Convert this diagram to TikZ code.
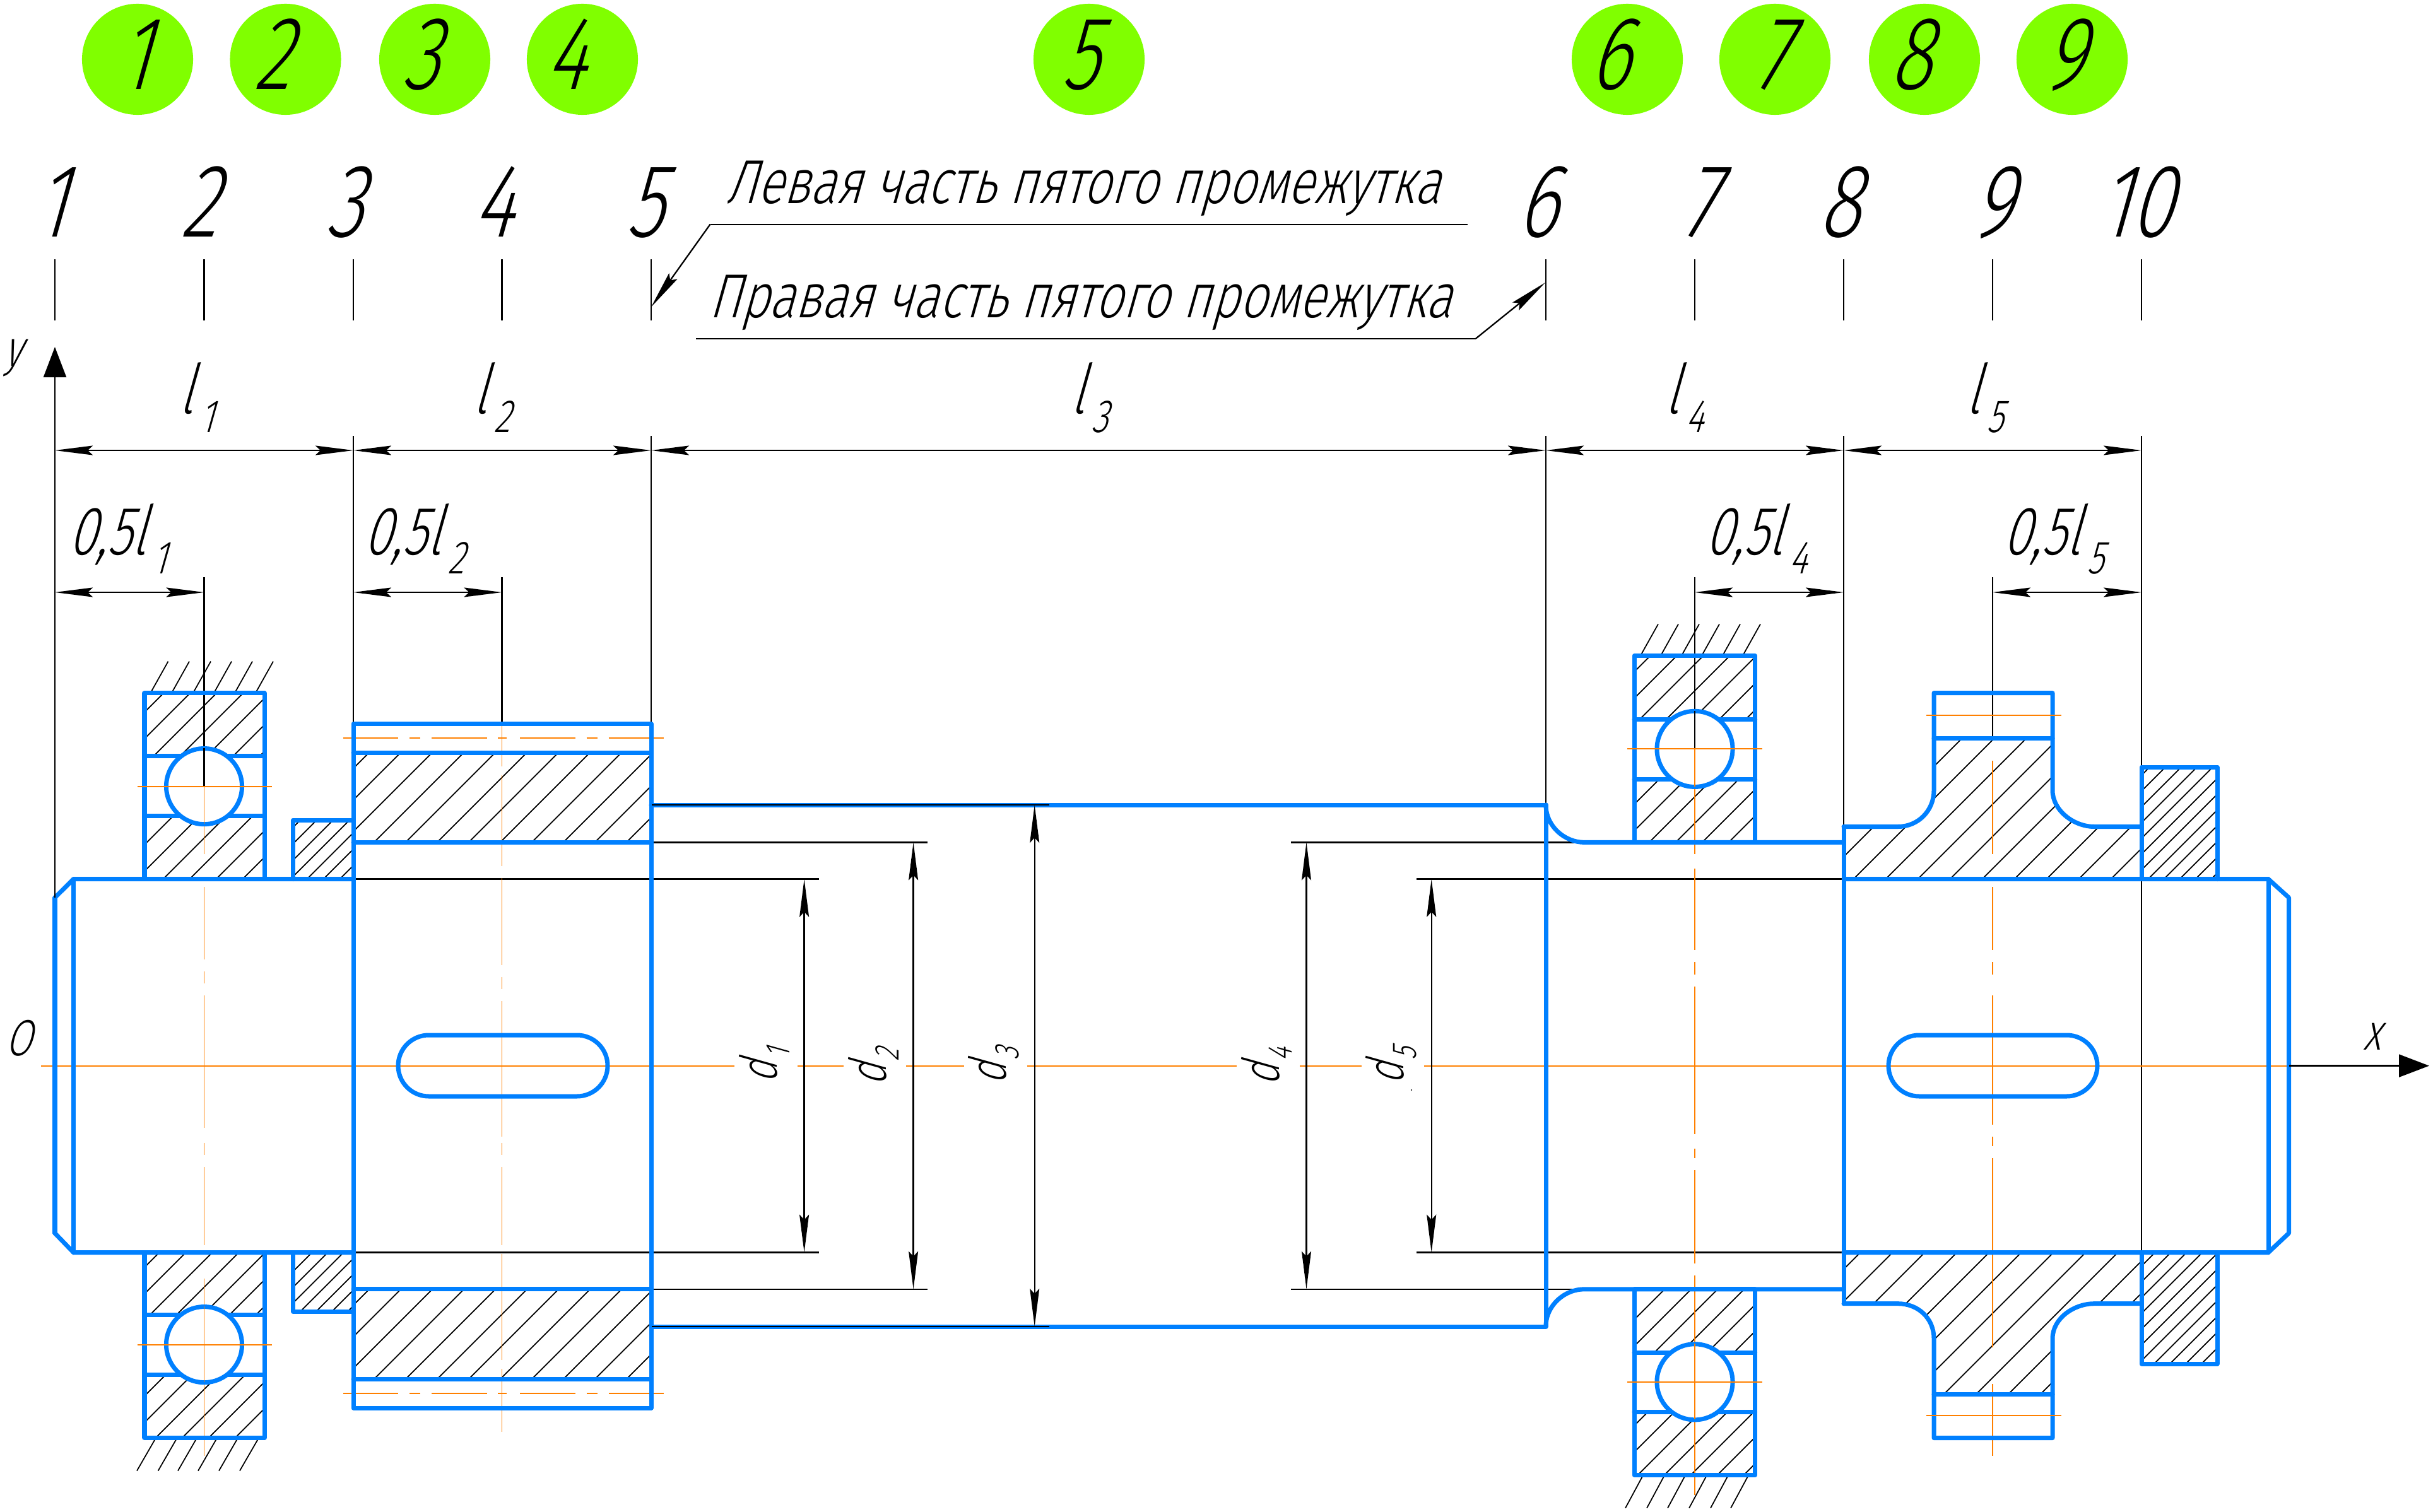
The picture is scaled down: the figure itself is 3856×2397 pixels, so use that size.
\documentclass[tikz,border=0pt]{standalone}
\usepackage{fontspec}
\usetikzlibrary{arrows.meta}
\newfontfamily\gost[UprightFont=* Light,FakeSlant=0.28,FakeStretch=0.74]{Fira Sans}
\newfontfamily\gostw[UprightFont=* Light,FakeSlant=0.28,FakeStretch=0.78]{Fira Sans}
\definecolor{bl}{HTML}{0080FF}
\definecolor{og}{HTML}{FF8000}
\definecolor{gr}{HTML}{80FF00}
\tikzset{
 outl/.style={draw=bl,line width=0.07cm,line join=round,line cap=round},
 thin line/.style={draw=black,line width=0.65pt},
 hatchln/.style={draw=black,line width=0.5pt},
 cl/.style={draw=og,line width=0.55pt},
 dimn/.style={draw=black,line width=0.65pt,{Stealth[length=0.6cm,width=0.15cm,inset=0.08cm]}-{Stealth[length=0.6cm,width=0.15cm,inset=0.08cm]}},
 lead/.style={draw=black,line width=0.65pt,-{Stealth[length=0.6cm,width=0.16cm,inset=0.08cm]}},
 axisln/.style={draw=black,line width=0.65pt,-{Stealth[length=0.48cm,width=0.36cm,inset=0pt]}},
 num/.style={inner sep=0pt,anchor=base,font=\gost\fontsize{47}{47}\selectfont},
 circ/.style={circle,fill=gr,draw=none,minimum size=1.76cm,inner sep=0pt},
 lbl/.style={inner sep=0pt,anchor=base west,font=\gost\fontsize{31}{31}\selectfont},
 capt/.style={inner sep=0pt,anchor=base west,font=\gostw\fontsize{28}{28}\selectfont},
 dlbl/.style={inner sep=0pt,anchor=base west,rotate=90,font=\gost\fontsize{23}{23}\selectfont},
 axl/.style={inner sep=0pt,anchor=base west,font=\gost\fontsize{23}{23}\selectfont},
}
\newcommand\hatchfill[4]{%
 \begin{scope}\clip #1;
 \pgfmathtruncatemacro{\cnext}{#2+#3}%
 \foreach \c in {#2,\cnext,...,#4}{\draw[hatchln] ({\c-900},900)--({\c-2500},2500);}
 \end{scope}}
\newcommand\lsub[2]{#1\kern0.1cm\raisebox{-0.3cm}{\fontsize{21}{21}\selectfont #2}}
\newcommand\dsub[2]{#1\kern0.04cm\raisebox{-0.2cm}{\fontsize{15.5}{15.5}\selectfont #2}}
\begin{document}
\begin{tikzpicture}[x=0.01cm,y=-0.01cm]
\useasboundingbox (0,0) rectangle (3856,2397);
\fill[white] (0,0) rectangle (3856,2397);
% hatches left
\hatchfill{(229,1099) rectangle (419,1199)}{1316}{42}{1618}
\hatchfill{(229,1293) rectangle (419,1394)}{1526}{42}{1820}
\hatchfill{(229,1986) rectangle (419,2085)}{2196}{42}{2504}
\hatchfill{(229,2179) rectangle (419,2280)}{2400}{42}{2710}
\hatchfill{(464,1300) rectangle (560,1394)}{1776}{26}{1958}
\hatchfill{(464,1986) rectangle (560,2079)}{2455}{25}{2655}
\hatchfill{(560,1193) rectangle (1032,1335)}{1778}{50}{2378}
\hatchfill{(560,2044) rectangle (1032,2186)}{2629}{50}{3229}
% hatches right
\hatchfill{(2590,1039) rectangle (2782,1141)}{3613}{42}{3949}
\hatchfill{(2590,1235) rectangle (2782,1335)}{3823}{42}{4117}
\hatchfill{(2590,2044) rectangle (2782,2144)}{4640}{42}{4934}
\hatchfill{(2590,2238) rectangle (2782,2339)}{4808}{42}{5144}
\hatchfill{(3394,1216) rectangle (3514,1394)}{4598}{25}{4923}
\hatchfill{(3394,1986) rectangle (3514,2162)}{5376}{25}{5701}
\hatchfill{(2922,1393.6)--(2922,1310.5)--(3008,1310.5) .. controls (3040,1310.5) and (3065,1285) .. (3065,1253)--(3065,1170)--(3253,1170)--(3253,1253) .. controls (3253,1285) and (3287,1310.5) .. (3319,1310.5)--(3394,1310.5)--(3394,1393.6)--cycle}{4025}{51}{4790}
\hatchfill{(2922,1985.6)--(2922,2066.7)--(3008,2066.7) .. controls (3040,2066.7) and (3065,2090) .. (3065,2122)--(3065,2210)--(3253,2210)--(3253,2122) .. controls (3253,2090) and (3287,2066.7) .. (3319,2066.7)--(3394,2066.7)--(3394,1985.6)--cycle}{4883}{51}{5648}
% ground hatch
\foreach \x in {238.5,272,306,339,372,405}{\draw[hatchln] (\x,1098.6)--++(28,-50);}
\foreach \x in {247,280.6,312,344,377,410}{\draw[hatchln] (\x,2279.6)--++(-30,52);}
\foreach \x in {2600,2632,2665,2697,2730,2762}{\draw[hatchln] (\x,1039.4)--++(28,-50);}
\foreach \x in {2604,2638,2671,2705,2739,2771}{\draw[hatchln] (\x,2338.8)--++(-28,52);}
% extension ticks
\foreach \x in {87,323.5,560,795.5,1032,2450,2686,2922,3158,3394}{\draw[thin line] (\x,411)--(\x,508);}
% extension lines
\foreach \x/\b in {560/1147,1032/1147,2450/1276,2922/1311,3394/1985.6}{\draw[thin line] (\x,691)--(\x,\b);}
\foreach \x/\b in {323.5/1246.6,795.5/1147,2686/1187,3158/1170}{\draw[thin line] (\x,915)--(\x,\b);}
\draw[thin line] (560,1393.6)--(1298,1393.6);
\draw[thin line] (560,1985.6)--(1298,1985.6);
\draw[thin line] (1032,1335.4)--(1470,1335.4);
\draw[thin line] (1032,2043.8)--(1470,2043.8);
\draw[thin line] (2046,1335.4)--(2511,1335.4);
\draw[thin line] (2046,2043.8)--(2511,2043.8);
\draw[thin line] (2245,1393.6)--(2982,1393.6);
\draw[thin line] (2245,1985.6)--(2982,1985.6);
% centre lines
\foreach \a/\b in {65/1164,1264/1337,1436/1528,1627.5/1960,2060/2158,2257/3627}{\draw[cl] (\a,1689.6)--(\b,1689.6);}
\foreach \a/\b in {1246.6/1353.5,1406/1520.6,1539.7/1558.8,1578/1788,1811.8/1831,1850/1974,2026.6/2308}{\draw[cl] (323.5,\a)--(323.5,\b);}
\foreach \a/\b in {1147/1215,1229/1372.6,1391.7/1530,1549/1568,1587/1802,1812/1831,1850/1974,1988/2155.5,2170/2270}{\draw[cl] (795.5,\a)--(795.5,\b);}
\foreach \a/\b in {1187/1353.5,1377/1506,1525/1544.5,1563.5/1797.5,1821/1835.6,1854.7/2002.7,2021.8/2370}{\draw[cl] (2686,\a)--(2686,\b);}
\foreach \a/\b in {1205.5/1353.5,1406/1506,1525/1544.5,1578/1783,1802/1816.6,1835.6/2136,2193.7/2308}{\draw[cl] (3158,\a)--(3158,\b);}
\foreach \a/\b in {543.7/631,649/666,684/771.7,789/803,824/912,929.5/947,964.6/1052}{\draw[cl] (\a,1170)--(\b,1170);\draw[cl] (\a,2209)--(\b,2209);}
% outlines left
\draw[outl] (87,1423)--(116.5,1393.6)--(560,1393.6);
\draw[outl] (87,1955)--(116.5,1985.6)--(560,1985.6);
\draw[outl] (87,1423)--(87,1955);
\draw[outl] (116.5,1393.6)--(116.5,1985.6);
\draw[outl] (229,1098.6) rectangle (419,1393.6);
\draw[outl] (229,1198.8)--(419,1198.8);
\draw[outl] (229,1293)--(419,1293);
\draw[outl] (229,1985.6) rectangle (419,2279.6);
\draw[outl] (229,2084.8)--(419,2084.8);
\draw[outl] (229,2179.4)--(419,2179.4);
\draw[outl] (560,1300)--(464.4,1300)--(464.4,1393.6);
\draw[outl] (560,2079)--(464.4,2079)--(464.4,1985.6);
\draw[outl] (560,1147.3) rectangle (1032,2232);
\draw[outl] (560,1193)--(1032,1193);
\draw[outl] (560,1335.4)--(1032,1335.4);
\draw[outl] (560,2043.8)--(1032,2043.8);
\draw[outl] (560,2186)--(1032,2186);
\draw[outl,rounded corners=0.485cm] (631,1641) rectangle (963,1738);
% middle
\draw[outl] (1032,1276)--(2450,1276);
\draw[outl] (1032,2103)--(2450,2103);
\draw[outl] (2450,1276)--(2450,2103);
\draw[outl] (2450,1276) .. controls (2450,1310) and (2480,1335.4) .. (2511,1335.4)--(2922,1335.4);
\draw[outl] (2450,2103) .. controls (2450,2069) and (2480,2043.8) .. (2511,2043.8)--(2922,2043.8);
\draw[thin line] (1033,1276)--(1663,1276);
\draw[thin line] (1033,2103)--(1663,2103);
% right
\draw[outl] (2922,1393.6)--(3595,1393.6)--(3627.5,1423)--(3627.5,1955)--(3595,1985.6)--(2922,1985.6);
\draw[outl] (3595,1393.6)--(3595,1985.6);
\draw[outl] (2922,1310.5)--(2922,2066.7);
\draw[outl] (2590,1039.4) rectangle (2781.6,1335.4);
\draw[outl] (2590,1140.6)--(2781.6,1140.6);
\draw[outl] (2590,1235)--(2781.6,1235);
\draw[outl] (2590,2043.8) rectangle (2781.6,2338.8);
\draw[outl] (2590,2144)--(2781.6,2144);
\draw[outl] (2590,2238.5)--(2781.6,2238.5);
\draw[outl] (2922,1310.5)--(3008,1310.5) .. controls (3040,1310.5) and (3065,1285) .. (3065,1253)--(3065,1098.6)--(3253,1098.6)--(3253,1253) .. controls (3253,1285) and (3287,1310.5) .. (3319,1310.5)--(3394,1310.5);
\draw[outl] (3065,1170)--(3253,1170);
\draw[outl] (2922,2066.7)--(3008,2066.7) .. controls (3040,2066.7) and (3065,2090) .. (3065,2122)--(3065,2279.6)--(3253,2279.6)--(3253,2122) .. controls (3253,2090) and (3287,2066.7) .. (3319,2066.7)--(3394,2066.7);
\draw[outl] (3065,2210)--(3253,2210);
\draw[outl] (3394,1393.6)--(3394,1216)--(3514,1216)--(3514,1393.6);
\draw[outl] (3394,1985.6)--(3394,2162)--(3514,2162)--(3514,1985.6);
\draw[outl,rounded corners=0.485cm] (2993,1641) rectangle (3324,1738);
% balls
\foreach \x/\y in {323.5/1246.6,323.5/2131.6,2686/1187.4,2686/2190.8}{\draw[outl,fill=white] (\x,\y) circle[radius=0.6cm];}
\draw[thin line] (323.5,1186)--(323.5,1246.6);
\draw[thin line] (2686,1127)--(2686,1187.4);
\draw[cl] (323.5,1246.6)--(323.5,1306);
\draw[cl] (323.5,2071)--(323.5,2191);
\draw[cl] (2686,1187.4)--(2686,1247);
\draw[cl] (2686,2130)--(2686,2250);
\foreach \y in {1246.6,2131.6}{\draw[cl] (217.5,\y)--(430.7,\y);}
\foreach \y in {1187.4,2190.8}{\draw[cl] (2579,\y)--(2792.7,\y);}
\foreach \y in {1134,2244}{\draw[cl] (3053,\y)--(3267,\y);}
% dimensions
\draw[dimn] (87,714)--(560,714);
\draw[dimn] (560,714)--(1032,714);
\draw[dimn] (1032,714)--(2450,714);
\draw[dimn] (2450,714)--(2922,714);
\draw[dimn] (2922,714)--(3394,714);
\draw[dimn] (87,939)--(323.5,939);
\draw[dimn] (560,939)--(795.5,939);
\draw[dimn] (2686,939)--(2922,939);
\draw[dimn] (3158,939)--(3394,939);
\draw[dimn] (1274.6,1393.6)--(1274.6,1985.6);
\draw[dimn] (1447.6,1335.4)--(1447.6,2043.8);
\draw[dimn] (1639.7,1276)--(1639.7,2103);
\draw[dimn] (2070.5,1335.4)--(2070.5,2043.8);
\draw[dimn] (2268.7,1393.6)--(2268.7,1985.6);
% leaders
\draw[thin line] (2325.6,355.7)--(1125.5,355.7);
\draw[lead] (1125.5,355.7)--(1032,486.7);
\draw[thin line] (1103,536.7)--(2339,536.7);
\draw[lead] (2339,536.7)--(2449,448);
% axes
\draw[axisln] (87,1423)--(87,550);
\draw[axisln] (3627.5,1689.6)--(3850,1689.6);
% circles
\foreach \i/\x in {1/218,2/452.5,3/689,4/923,5/1726,6/2579,7/2813,8/3050,9/3284}{\node[circ] (c\i) at (\x,94) {};}
\foreach \i/\x in {1/213,2/431,3/666,4/896,5/1711,6/2551,7/2807,8/3027,9/3271}{\node[num] (cn\i) at (\x,141.6) {\i};}
% numbers
\foreach \i/\x in {1/80,2/315,3/545,4/781,5/1021,6/2436,7/2692,8/2914,9/3157,10/3384}{\node[num] (n\i) at (\x,376) {\i};}
% captions
\node[capt] (t1) at (1150,322.7) {Левая часть пятого промежутка};
\node[capt] (t2) at (1123,503) {Правая часть пятого промежутка};
% length labels
\node[lbl] (l1) at (283,655) {\lsub{l}{1}};
\node[lbl] (l2) at (749,655) {\lsub{l}{2}};
\node[lbl] (l3) at (1696,655) {\lsub{l}{3}};
\node[lbl] (l4) at (2638,655) {\lsub{l}{4}};
\node[lbl] (l5) at (3115,655) {\lsub{l}{5}};
\node[lbl] (h1) at (108,879) {\lsub{0,5l}{1}};
\node[lbl] (h2) at (576,879) {\lsub{0,5l}{2}};
\node[lbl] (h4) at (2702,879) {\lsub{0,5l}{4}};
\node[lbl] (h5) at (3174,879) {\lsub{0,5l}{5}};
% diameters
\node[dlbl] (d1) at (1231,1718) {\dsub{d}{1}};
\node[dlbl] (d2) at (1404,1722) {\dsub{d}{2}};
\node[dlbl] (d3) at (1594.5,1720) {\dsub{d}{3}};
\node[dlbl] (d4) at (2027,1722) {\dsub{d}{4}};
\node[dlbl] (d5) at (2224,1720) {\dsub{d}{5}};
\fill[black] (2237,1728) circle[radius=0.012cm];
% axis labels
\node[axl] (ax0) at (8,1673) {O};
\node[axl] (axx) at (3745,1664) {x};
\node[axl] (axy) at (6,580) {y};
\end{tikzpicture}
\end{document}
